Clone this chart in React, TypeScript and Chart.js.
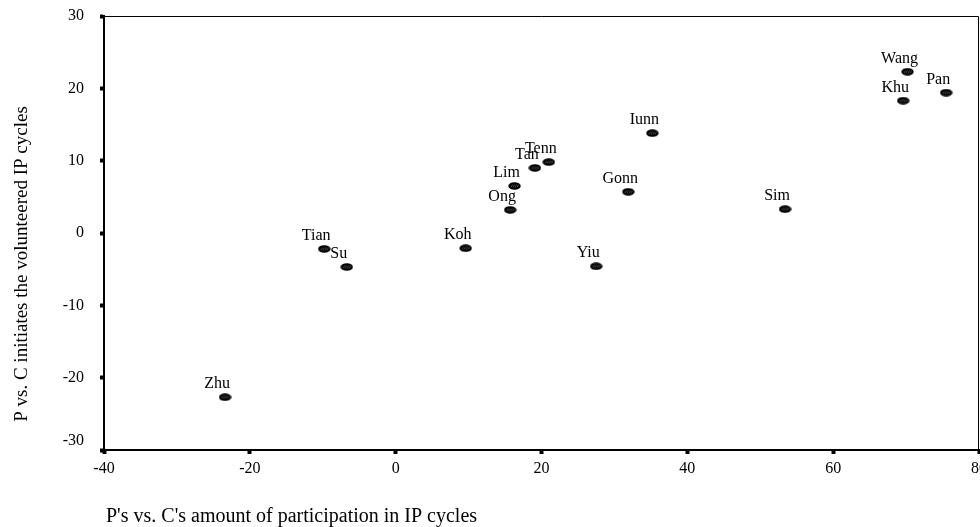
import React, { useEffect, useRef } from "react";
import { Chart, registerables } from "chart.js";
Chart.register(...registerables);

const names = ["Zhu", "Tian", "Su", "Koh", "Ong", "Lim", "Tan", "Tenn", "Yiu", "Gonn", "Iunn", "Sim", "Wang", "Khu", "Pan"];
const xValues = [-23.4, -9.8, -6.7, 9.6, 15.7, 16.3, 19.1, 21.0, 27.5, 31.9, 35.2, 53.4, 70.2, 69.6, 75.5];
const yValues = [-22.7, -2.2, -4.7, -2.1, 3.2, 6.5, 9.0, 9.8, -4.6, 5.7, 13.8, 3.3, 22.3, 18.3, 19.4];
const xTitle = "P's vs. C's amount of participation in IP cycles";
const yTitle = "P vs. C initiates the volunteered IP cycles";

const SERIF = "'Liberation Serif', 'Times New Roman', serif";

function makeMarker(): HTMLCanvasElement {
  const c = document.createElement("canvas");
  c.width = 13;
  c.height = 8;
  const ctx = c.getContext("2d")!;
  ctx.fillStyle = "#000";
  ctx.beginPath();
  ctx.ellipse(6.5, 4, 6.2, 3.8, 0, 0, Math.PI * 2);
  ctx.fill();
  ctx.strokeStyle = "#777";
  ctx.lineWidth = 0.6;
  for (let i = 3; i < 11; i += 2) {
    ctx.beginPath();
    ctx.moveTo(i, 5.5);
    ctx.lineTo(i + 1.5, 2.5);
    ctx.stroke();
  }
  return c;
}

export default function App() {
  const ref = useRef<HTMLCanvasElement>(null);
  useEffect(() => {
    const marker = makeMarker();
    const labelPlugin = {
      id: "labels",
      afterDatasetsDraw(chart: any) {
        const { ctx } = chart;
        const xs = chart.scales.x;
        const ys = chart.scales.y;
        ctx.save();
        ctx.font = `16px ${SERIF}`;
        ctx.fillStyle = "#000";
        ctx.textAlign = "center";
        ctx.textBaseline = "alphabetic";
        names.forEach((n, i) => {
          const px = xs.getPixelForValue(xValues[i]);
          const py = ys.getPixelForValue(yValues[i]);
          ctx.fillText(n, px - 8, py - 9);
        });
        ctx.restore();
      },
    };
    const framePlugin = {
      id: "frame",
      afterDraw(chart: any) {
        const { ctx, chartArea: a } = chart;
        ctx.save();
        ctx.strokeStyle = "#000";
        ctx.lineWidth = 1;
        ctx.beginPath();
        ctx.moveTo(a.left, a.top + 0.5);
        ctx.lineTo(a.right - 0.5, a.top + 0.5);
        ctx.lineTo(a.right - 0.5, a.bottom);
        ctx.stroke();
        // axis titles
        ctx.fillStyle = "#000";
        ctx.font = `20px ${SERIF}`;
        ctx.textAlign = "left";
        ctx.textBaseline = "alphabetic";
        ctx.fillText(xTitle, a.left + 2, 522);
        ctx.font = `19px ${SERIF}`;
        ctx.translate(27, 264);
        ctx.rotate(-Math.PI / 2);
        ctx.textAlign = "center";
        ctx.fillText(yTitle, 0, 0);
        ctx.restore();
      },
    };
    const chart = new Chart(ref.current!, {
      type: "scatter",
      data: {
        datasets: [
          {
            data: xValues.map((x, i) => ({ x, y: yValues[i] })),
            pointStyle: marker as any,
            pointRadius: 6,
            backgroundColor: "#000",
            borderColor: "#000",
          },
        ],
      },
      options: {
        animation: false,
        responsive: false,
        layout: { autoPadding: false, padding: { top: 16, right: 1, left: 0, bottom: 0 } },
        plugins: { legend: { display: false }, tooltip: { enabled: false } },
        scales: {
          x: {
            type: "linear",
            min: -40,
            max: 80,
            ticks: { stepSize: 20, color: "#000", font: { family: SERIF, size: 16 }, padding: 5 },
            grid: { drawOnChartArea: false, tickLength: 4, tickWidth: 4, color: "#000" },
            border: { color: "#000", width: 2 },
            afterFit(scale: any) {
              scale.height = 77;
              scale.paddingRight = 0;
              scale.paddingLeft = 0;
            },
          },
          y: {
            type: "linear",
            min: -30,
            max: 30,
            ticks: {
              stepSize: 10,
              color: "#000",
              font: { family: SERIF, size: 16 },
              padding: 16,
              callback: (v: any) => (v === -30 ? ["-30", ""] : String(v)),
            },
            grid: { drawOnChartArea: false, tickLength: 4, tickWidth: 4, color: "#000" },
            border: { color: "#000", width: 2 },
            afterFit(scale: any) {
              scale.width = 104;
              scale.paddingTop = 0;
              scale.paddingBottom = 0;
            },
          },
        },
      },
      plugins: [labelPlugin, framePlugin],
    });
    return () => chart.destroy();
  }, []);
  return (
    <div style={{ position: "fixed", left: 0, top: 0, width: 980, height: 527, background: "#fff" }}>
      <canvas ref={ref} width={980} height={527} style={{ width: 980, height: 527 }} />
    </div>
  );
}
